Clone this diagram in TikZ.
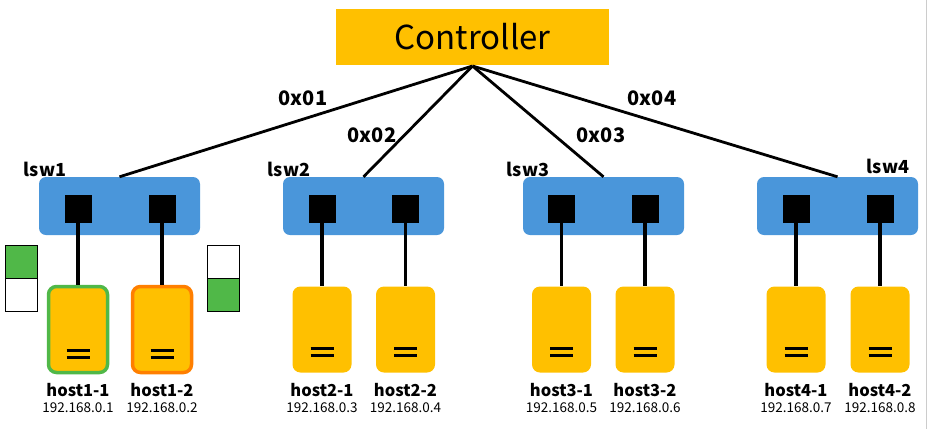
\documentclass[tikz,border=0pt]{standalone}
\usepackage{fontspec}
\setmainfont{Noto Sans CJK JP}
\usetikzlibrary{calc}
\definecolor{cyel}{HTML}{FFC000}
\definecolor{cblue}{HTML}{4A96DA}
\definecolor{cgreen}{HTML}{50B848}
\definecolor{corange}{HTML}{FF7F00}
\tikzset{
  sw/.style={fill=cblue, rounded corners=7pt, minimum width=161pt, minimum height=58pt, inner sep=0pt},
  port/.style={fill=black, minimum width=27pt, minimum height=28pt, inner sep=0pt},
  host/.style={fill=cyel, rounded corners=8pt, minimum width=59pt, minimum height=86pt, inner sep=0pt},
  uplink/.style={line width=2.8pt},
  hlink/.style={line width=3.2pt},
  eqline/.style={line width=2.6pt},
  hname/.style={font=\fontsize{16.5}{16.5}\selectfont\bfseries, inner sep=0pt},
  ipaddr/.style={font=\fontsize{13.5}{13.5}\selectfont, inner sep=0pt},
  swlabel/.style={font=\fontsize{18}{18}\selectfont\bfseries, inner sep=0pt},
  idlabel/.style={font=\fontsize{20}{20}\selectfont\bfseries, inner sep=0pt},
  ind/.style={draw=black, line width=0.8pt, minimum width=32pt, minimum height=33pt, inner sep=0pt},
}
\newcommand{\mkhost}[5]{%
  % #1 name, #2 x, #3 label, #4 ip, #5 extra style
  \node[host,#5] (#1) at (#2,329.5) {};
  \draw[eqline] ([xshift=-11.5pt,yshift=24pt]#1.south) -- ([xshift=11.5pt,yshift=24pt]#1.south);
  \draw[eqline] ([xshift=-11.5pt,yshift=17pt]#1.south) -- ([xshift=11.5pt,yshift=17pt]#1.south);
  \node[hname] (#1n) at (#2,390) {#3};
  \node[ipaddr] (#1i) at (#2,407.5) {#4};
}
\begin{document}
\begin{tikzpicture}[x=1pt,y=-1pt]
\useasboundingbox (0,0) rectangle (929,429);
\draw[gray!40, line width=1pt] (926,0) -- (926,429);
% controller
\node[fill=cyel, minimum width=273pt, minimum height=56pt, inner sep=0pt,
      font=\fontsize{33}{33}\selectfont] (ctrl) at (472.5,37) {Controller};
\coordinate (apex) at (472.5,66);
% switches
\node[sw] (s1) at (119.5,206) {};
\node[sw] (s2) at (363.5,206) {};
\node[sw] (s3) at (603.5,206) {};
\node[sw] (s4) at (837.5,206) {};
\node[swlabel] (l1) at (45,169) {lsw1};
\node[swlabel] (l2) at (289,169) {lsw2};
\node[swlabel] (l3) at (528,169) {lsw3};
\node[swlabel] (l4) at (888,166) {lsw4};
% uplinks
\draw[uplink] (apex) -- (s1.north);
\draw[uplink] (apex) -- (s2.north);
\draw[uplink] (apex) -- (s3.north);
\draw[uplink] (apex) -- (s4.north);
\node[idlabel] (i1) at (303,98.5) {0x01};
\node[idlabel] (i2) at (372,135) {0x02};
\node[idlabel] (i3) at (601,135) {0x03};
\node[idlabel] (i4) at (652,98.5) {0x04};
% ports
\node[port] (p11) at (78,209) {};
\node[port] (p12) at (162,209) {};
\node[port] (p21) at (322,209) {};
\node[port] (p22) at (405.5,209) {};
\node[port] (p31) at (561.5,209) {};
\node[port] (p32) at (645,209) {};
\node[port] (p41) at (796,209) {};
\node[port] (p42) at (880,209) {};
% hosts
\mkhost{h11}{78}{host1-1}{192.168.0.1}{draw=cgreen, line width=3.5pt}
\mkhost{h12}{162}{host1-2}{192.168.0.2}{draw=corange, line width=3.5pt}
\mkhost{h21}{322}{host2-1}{192.168.0.3}{}
\mkhost{h22}{405.5}{host2-2}{192.168.0.4}{}
\mkhost{h31}{561.5}{host3-1}{192.168.0.5}{}
\mkhost{h32}{645}{host3-2}{192.168.0.6}{}
\mkhost{h41}{796}{host4-1}{192.168.0.7}{}
\mkhost{h42}{880}{host4-2}{192.168.0.8}{}
% host links
\foreach \a/\b in {p11/h11,p12/h12,p21/h21,p22/h22,p31/h31,p32/h32,p41/h41,p42/h42}
  \draw[hlink] (\a.south) -- (\b.north);
% indicators
\node[ind, fill=cgreen] (ga) at (21,262) {};
\node[ind, fill=white] (wa) at (21,295) {};
\node[ind, fill=white] (wb) at (223,262) {};
\node[ind, fill=cgreen] (gb) at (223,295) {};
\end{tikzpicture}
\end{document}
